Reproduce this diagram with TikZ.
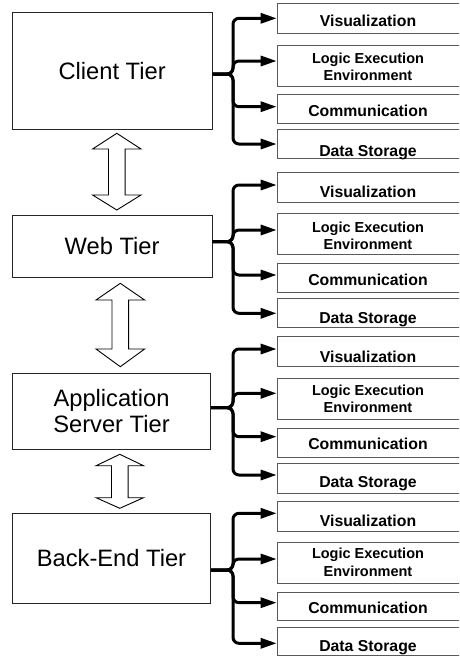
\documentclass[tikz,border=0pt]{standalone}
\usepackage{fontspec}
\setmainfont{Liberation Sans}
\usetikzlibrary{arrows.meta,calc}
\tikzset{
  tier/.style={draw=black!85, line width=1pt, fill=white, inner sep=0pt, align=center,
    font=\fontsize{23.7}{26}\selectfont},
  rbx/.style={draw=black!65, line width=1pt, inner sep=0pt, minimum width=190pt},
  rlab/.style={font=\bfseries\fontsize{15.8}{18}\selectfont, anchor=base, inner sep=0pt},
  llab/.style={font=\bfseries\fontsize{14.5}{17}\selectfont, anchor=base, inner sep=0pt},
  branch/.style={line width=3pt, rounded corners=6pt, -{Triangle[length=16pt,width=10pt]}},
  hollow/.style={draw=black, line width=0.9pt, fill=white, line join=miter}
}
% name, top, bottom, arrow y
\newcommand\rboxdef[4]{%
  \node[rbx, minimum height={(#3-#2)*1pt}, anchor=north west] (#1) at (276.7,#2) {};
  \coordinate (a-#1) at (276.7,#4);}
% cx, ytop, base1, base2, ybot, half head, half shaft
\newcommand\hollowarr[7]{%
  \draw[hollow] (#1,#2) -- (#1+#6,#3) -- (#1+#7,#3) -- (#1+#7,#4) -- (#1+#6,#4)
    -- (#1,#5) -- (#1-#6,#4) -- (#1-#7,#4) -- (#1-#7,#3) -- (#1-#6,#3) -- cycle;}
\newcommand\fourlabels[9]{% prefix, vis bl, logic bl1, logic bl2, comm bl, ds bl
  \node[rlab] (#1vt) at (368,#2) {Visualization};
  \node[llab] (#1lt1) at (368,#3) {Logic Execution};
  \node[llab] (#1lt2) at (368,#4) {Environment};
  \node[rlab] (#1ct) at (368,#5) {Communication};
  \node[rlab] (#1dt) at (368,#6) {Data Storage};}
\begin{document}
\begin{tikzpicture}[x=1pt,y=-1pt]
\useasboundingbox (0,0) rectangle (459,656);
\clip (0,0) rectangle (459,656);

% tier boxes
\node[tier, minimum width=199.7pt, minimum height=117pt] (client) at (112.15,70.8) {Client Tier};
\node[tier, minimum width=199.7pt, minimum height=61.6pt] (web) at (112.15,246.5) {Web Tier};
\node[tier, minimum width=198.4pt, minimum height=75.7pt] (app) at (111.5,411.15) {Application\\Server Tier};
\node[tier, minimum width=198.4pt, minimum height=90pt] (back) at (111.5,558.3) {Back-End Tier};

% hollow double arrows
\hollowarr{116.8}{133.3}{149}{195}{210}{24.2}{8.35}
\hollowarr{120.3}{283.3}{300}{349}{366.7}{24.3}{8.35}
\hollowarr{119.8}{454.3}{465.7}{497.7}{508.3}{23.7}{8.35}

% right boxes
\rboxdef{c1v}{3.3}{33.3}{18.3}
\rboxdef{c1l}{45}{86}{61}
\rboxdef{c1c}{94.3}{123.3}{106.7}
\rboxdef{c1d}{129.3}{158.3}{144}
\rboxdef{c2v}{171.7}{202.3}{185}
\rboxdef{c2l}{212.7}{254}{230}
\rboxdef{c2c}{263.3}{291.7}{275}
\rboxdef{c2d}{297.7}{326.7}{313.3}
\rboxdef{c3v}{336}{366}{349}
\rboxdef{c3l}{378.3}{419.3}{393.3}
\rboxdef{c3c}{427.7}{456.7}{436.7}
\rboxdef{c3d}{462.7}{492.7}{475}
\rboxdef{c4v}{500.7}{530.7}{513.3}
\rboxdef{c4l}{541.7}{582.7}{559}
\rboxdef{c4c}{591.7}{620}{602.7}
\rboxdef{c4d}{626.7}{655}{643.3}

\fourlabels{g1}{26.7}{63.3}{80}{116.7}{156}{}{}{}
\fourlabels{g2}{197.3}{232.7}{249.3}{285}{323.3}{}{}{}
\fourlabels{g3}{362.3}{395.7}{412.3}{449.3}{487.7}{}{}{}
\fourlabels{g4}{526.7}{558.3}{576.7}{613.3}{651.7}{}{}{}

% braces
\coordinate (j1) at (233,74);
\coordinate (j2) at (233,241.7);
\coordinate (j3) at (233,407.7);
\coordinate (j4) at (233,570);
\foreach \b in {c1v,c1l,c1c,c1d}
  \draw[branch] (client.east |- j1) -- (j1) -- (j1 |- a-\b) -- (a-\b);
\foreach \b in {c2v,c2l,c2c,c2d}
  \draw[branch] (web.east |- j2) -- (j2) -- (j2 |- a-\b) -- (a-\b);
\foreach \b in {c3v,c3l,c3c,c3d}
  \draw[branch] (app.east |- j3) -- (j3) -- (j3 |- a-\b) -- (a-\b);
\foreach \b in {c4v,c4l,c4c,c4d}
  \draw[branch] (back.east |- j4) -- (j4) -- (j4 |- a-\b) -- (a-\b);
\end{tikzpicture}
\end{document}
